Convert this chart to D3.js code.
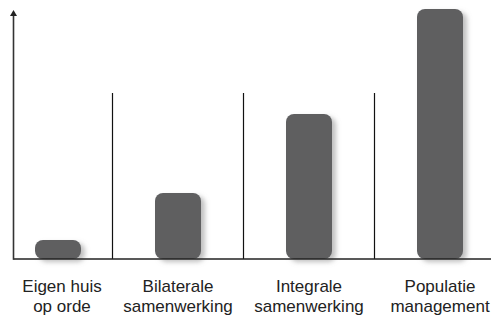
<!DOCTYPE html>
<html>
<head>
<meta charset="utf-8">
<script src="https://cdn.jsdelivr.net/npm/d3@7"></script>
<style>
  body { margin: 0; background: #fff; }
  svg { display: block; }
</style>
</head>
<body>
<svg id="chart" width="491" height="320"></svg>
<script>
// categories (two-line labels) and bar values (relative, tallest = 100)
var categories = ["Eigen huis op orde", "Bilaterale samenwerking", "Integrale samenwerking", "Populatie management"]
var labelLines = [["Eigen huis", "op orde"], ["Bilaterale", "samenwerking"], ["Integrale", "samenwerking"], ["Populatie", "management"]]
var values = [7.6, 26.4, 58, 100]

var svg = d3.select("#chart"),
    baseY = 259,
    topY = 9,
    axisX = 13.5,
    barW = 46;

// bar centres; category step is ~131px, the first bar sits a bit right of its slot
var x = d3.scaleOrdinal()
    .domain(categories)
    .range([58, 178, 309, 440]);

// separator positions lie halfway between category slots
var xSlot = d3.scalePoint()
    .domain(categories)
    .range([47, 440]);

var y = d3.scaleLinear()
    .domain([0, 100])
    .range([baseY, topY]);

var labelX = d3.scaleOrdinal()
    .domain(categories)
    .range([62, 178, 309, 440]);

var defs = svg.append("defs");
var f = defs.append("filter")
    .attr("id", "shadow")
    .attr("x", "-30%").attr("y", "-30%")
    .attr("width", "180%").attr("height", "180%");
f.append("feDropShadow")
    .attr("dx", 4)
    .attr("dy", 3)
    .attr("stdDeviation", 2.5)
    .attr("flood-color", "#8a8a8a")
    .attr("flood-opacity", 0.55);

// vertical separators between categories
var step = xSlot.step();
svg.selectAll(".sep")
    .data(categories.slice(1))
    .enter().append("line")
    .attr("class", "sep")
    .attr("x1", function(d) { return xSlot(d) - step / 2; })
    .attr("x2", function(d) { return xSlot(d) - step / 2; })
    .attr("y1", 93)
    .attr("y2", baseY)
    .attr("stroke", "#111")
    .attr("stroke-width", 1.2);

// bars
svg.selectAll(".bar")
    .data(values)
    .enter().append("rect")
    .attr("class", "bar")
    .attr("x", function(d, i) { return x(categories[i]) - barW / 2; })
    .attr("y", function(d) { return y(d); })
    .attr("width", barW)
    .attr("height", function(d) { return baseY - y(d); })
    .attr("rx", 8)
    .attr("ry", 8)
    .attr("fill", "#5e5f61")
    .attr("filter", "url(#shadow)");

// baseline
svg.append("line")
    .attr("x1", axisX)
    .attr("x2", 491)
    .attr("y1", baseY)
    .attr("y2", baseY)
    .attr("stroke", "#222")
    .attr("stroke-width", 1.6);

// y axis with arrow head
svg.append("line")
    .attr("x1", axisX)
    .attr("x2", axisX)
    .attr("y1", baseY + 0.8)
    .attr("y2", topY + 5)
    .attr("stroke", "#333")
    .attr("stroke-width", 1.6);

svg.append("path")
    .attr("d", "M" + axisX + "," + (topY + 1) + " L" + (axisX + 3.5) + "," + (topY + 7) +
        " L" + (axisX - 3.5) + "," + (topY + 7) + " Z")
    .attr("fill", "#222");

// category labels
var lab = svg.selectAll(".label")
    .data(categories)
    .enter().append("text")
    .attr("class", "label")
    .attr("text-anchor", "middle")
    .attr("font-family", "'Liberation Sans', Arial, sans-serif")
    .attr("font-size", 17)
    .attr("fill", "#222");

lab.each(function(d, i) {
    var t = d3.select(this);
    labelLines[i].forEach(function(line, j) {
        t.append("tspan")
            .attr("x", labelX(d))
            .attr("y", 292 + j * 20)
            .text(line);
    });
});
</script>
</body>
</html>
